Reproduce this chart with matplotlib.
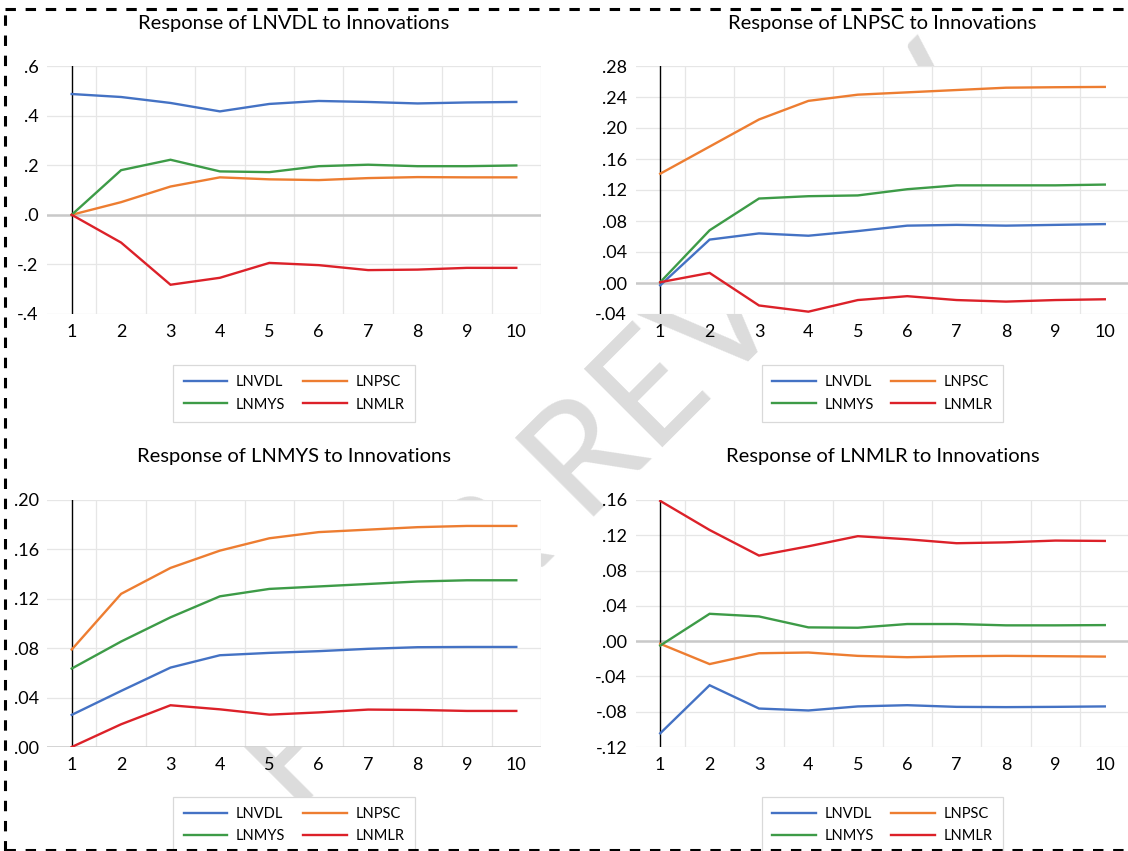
import matplotlib
matplotlib.use("Agg")
import matplotlib.pyplot as plt
from matplotlib.lines import Line2D
import numpy as np

# ---------------- data ----------------
periods = [1, 2, 3, 4, 5, 6, 7, 8, 9, 10]
series_names = ["LNVDL", "LNPSC", "LNMYS", "LNMLR"]
series_colors = ["#4472c4", "#ed7d31", "#3d9b47", "#dc2129"]

# Response of LNVDL
vdl_lnvdl = [0.487, 0.475, 0.451, 0.417, 0.447, 0.459, 0.455, 0.449, 0.453, 0.455]
vdl_lnpsc = [0.000, 0.051, 0.114, 0.151, 0.143, 0.140, 0.148, 0.152, 0.151, 0.151]
vdl_lnmys = [0.000, 0.180, 0.222, 0.175, 0.172, 0.196, 0.202, 0.196, 0.196, 0.199]
vdl_lnmlr = [0.000, -0.112, -0.282, -0.254, -0.194, -0.203, -0.223, -0.221, -0.214, -0.214]

# Response of LNPSC
psc_lnvdl = [-0.003, 0.056, 0.064, 0.061, 0.067, 0.074, 0.075, 0.074, 0.075, 0.076]
psc_lnpsc = [0.141, 0.176, 0.211, 0.235, 0.243, 0.246, 0.249, 0.252, 0.2526, 0.253]
psc_lnmys = [0.001, 0.068, 0.109, 0.112, 0.113, 0.121, 0.126, 0.126, 0.126, 0.127]
psc_lnmlr = [0.001, 0.013, -0.029, -0.037, -0.022, -0.017, -0.022, -0.024, -0.022, -0.021]

# Response of LNMYS
mys_lnvdl = [0.026, 0.0454, 0.0643, 0.0743, 0.0762, 0.0776, 0.0795, 0.0808, 0.081, 0.081]
mys_lnpsc = [0.0789, 0.124, 0.145, 0.159, 0.169, 0.174, 0.176, 0.178, 0.179, 0.179]
mys_lnmys = [0.0635, 0.0854, 0.105, 0.122, 0.128, 0.130, 0.132, 0.134, 0.135, 0.135]
mys_lnmlr = [0.000, 0.0184, 0.0338, 0.0305, 0.0262, 0.028, 0.0303, 0.030, 0.0292, 0.0292]

# Response of LNMLR
mlr_lnvdl = [-0.1045, -0.050, -0.0764, -0.0786, -0.074, -0.0726, -0.0745, -0.0748, -0.0745, -0.074]
mlr_lnpsc = [-0.003, -0.026, -0.0137, -0.0129, -0.0167, -0.0182, -0.0171, -0.0167, -0.0171, -0.0175]
mlr_lnmys = [-0.005, 0.031, 0.028, 0.0156, 0.0152, 0.0194, 0.0194, 0.0179, 0.0179, 0.0182]
mlr_lnmlr = [0.159, 0.126, 0.097, 0.1075, 0.119, 0.1155, 0.111, 0.112, 0.114, 0.1136]

titles = ["Response of LNVDL to Innovations", "Response of LNPSC to Innovations",
          "Response of LNMYS to Innovations", "Response of LNMLR to Innovations"]

vdl_ticks = [-0.4, -0.2, 0.0, 0.2, 0.4, 0.6]
vdl_ticklabels = ["-.4", "-.2", ".0", ".2", ".4", ".6"]
psc_ticks = [-0.04, 0.0, 0.04, 0.08, 0.12, 0.16, 0.20, 0.24, 0.28]
psc_ticklabels = ["-.04", ".00", ".04", ".08", ".12", ".16", ".20", ".24", ".28"]
mys_ticks = [0.0, 0.04, 0.08, 0.12, 0.16, 0.20]
mys_ticklabels = [".00", ".04", ".08", ".12", ".16", ".20"]
mlr_ticks = [-0.12, -0.08, -0.04, 0.0, 0.04, 0.08, 0.12, 0.16]
mlr_ticklabels = ["-.12", "-.08", "-.04", ".00", ".04", ".08", ".12", ".16"]

# ---------------- figure ----------------
plt.rcParams["font.family"] = ["Lato", "DejaVu Sans"]
W, H = 1128, 851
fig = plt.figure(figsize=(W / 100, H / 100), dpi=100)

# watermark (behind the plot areas)
fig.text(615 / W, 1 - 432 / H, "PEER REVIEW", rotation=45, fontsize=112,
         fontweight="normal", color="#dcdcdc", ha="center", va="center",
         rotation_mode="anchor", zorder=-5)

def px_axes(x0, y_top, x1, y_bot):
    return [x0 / W, 1 - y_bot / H, (x1 - x0) / W, (y_bot - y_top) / H]

boxes = [px_axes(47, 66, 541, 314), px_axes(635.5, 66, 1129.5, 314),
         px_axes(47, 500, 541, 747), px_axes(635.5, 500, 1129.5, 747)]
title_y = [23, 23, 457, 457]
legend_y = [393.5, 393.5, 825, 825]

panel_data = [
    [vdl_lnvdl, vdl_lnpsc, vdl_lnmys, vdl_lnmlr],
    [psc_lnvdl, psc_lnpsc, psc_lnmys, psc_lnmlr],
    [mys_lnvdl, mys_lnpsc, mys_lnmys, mys_lnmlr],
    [mlr_lnvdl, mlr_lnpsc, mlr_lnmys, mlr_lnmlr],
]
panel_ticks = [vdl_ticks, psc_ticks, mys_ticks, mlr_ticks]
panel_ticklabels = [vdl_ticklabels, psc_ticklabels, mys_ticklabels, mlr_ticklabels]

for i in range(4):
    ax = fig.add_axes(boxes[i])
    ax.set_facecolor("white")
    ticks = panel_ticks[i]
    ax.set_xlim(0.5, 10.5)
    ax.set_ylim(ticks[0], ticks[-1])
    ax.set_yticks(ticks)
    ax.set_yticklabels(panel_ticklabels[i])
    ax.set_xticks(periods)
    ax.set_xticklabels([str(p) for p in periods])
    ax.set_xticks(np.arange(1.5, 11, 1.0), minor=True)
    ax.grid(False)
    ax.grid(which="minor", axis="x", color="#e6e6e6", lw=0.9)
    ax.grid(which="major", axis="y", color="#e6e6e6", lw=0.9)
    ax.set_axisbelow(True)
    for s in ax.spines.values():
        s.set_visible(False)
    ax.tick_params(which="both", length=0)
    ax.tick_params(axis="y", labelsize=13, pad=6)
    ax.tick_params(axis="x", labelsize=13, pad=7)
    ax.axhline(0, color="#c9c9c9", lw=1.8, zorder=1.5)
    ax.axvline(1, color="black", lw=1.0, zorder=1.6)

    handles = {}
    for name, color, vals in zip(series_names, series_colors, panel_data[i]):
        ln, = ax.plot(periods, vals, color=color, lw=1.7, label=name, zorder=3,
                      solid_joinstyle="miter")
        handles[name] = ln
    order = ["LNVDL", "LNMYS", "LNPSC", "LNMLR"]
    cx = (boxes[i][0] + boxes[i][2] / 2)
    fig.text(cx, 1 - title_y[i] / H, titles[i], ha="center", va="center", fontsize=14.5)
    leg = ax.legend([handles[n] for n in order], order, ncol=2, loc="center",
                    bbox_to_anchor=(cx, 1 - legend_y[i] / H),
                    bbox_transform=fig.transFigure, fontsize=10.5, frameon=True,
                    fancybox=False, framealpha=1, edgecolor="#d9d9d9",
                    handlelength=3.0, handletextpad=0.6, columnspacing=1.2,
                    labelspacing=0.55, borderpad=0.7)
    leg.get_frame().set_linewidth(0.9)

# dashed border
plt.rcParams["lines.scale_dashes"] = False
dash = (0, (7.5, 7.0))
fig.add_artist(Line2D([4.5 / W, 4.5 / W], [0, 1 - 9 / H], transform=fig.transFigure,
                      color="black", lw=2.2, linestyle=dash))
fig.add_artist(Line2D([4.5 / W, 1], [1 - 9 / H, 1 - 9 / H], transform=fig.transFigure,
                      color="black", lw=2.2, linestyle=dash))
fig.add_artist(Line2D([4.5 / W, 1], [1 - 849.5 / H, 1 - 849.5 / H], transform=fig.transFigure,
                      color="black", lw=2.2, linestyle=dash))

fig.savefig("out.png", dpi=100, facecolor="white")
